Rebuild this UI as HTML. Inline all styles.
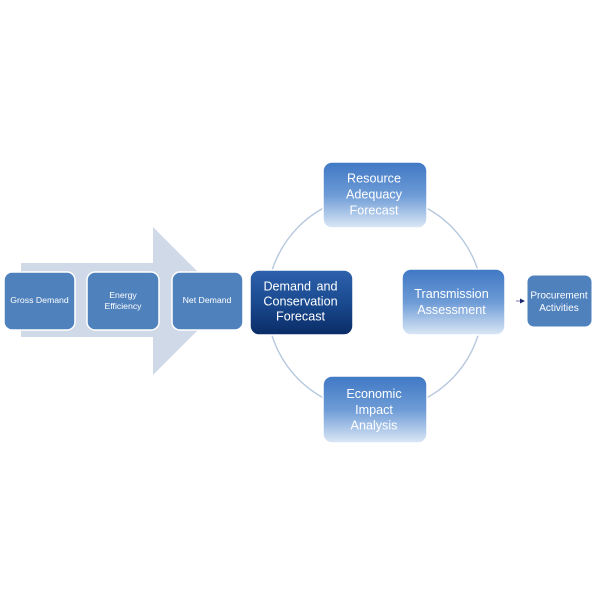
<!DOCTYPE html>
<html><head><meta charset="utf-8"><style>
html,body{margin:0;padding:0;background:#fff;}
svg{display:block;}
text{font-family:"Liberation Sans",sans-serif;fill:#fff;text-anchor:middle;}
</style></head><body>
<svg width="600" height="600" viewBox="0 0 600 600" xmlns="http://www.w3.org/2000/svg">
<defs>
<linearGradient id="lg" x1="0" y1="0" x2="0" y2="1">
<stop offset="0" stop-color="#3f78c4"/>
<stop offset="0.5" stop-color="#6d9bd6"/>
<stop offset="1" stop-color="#dce8f6"/>
</linearGradient>
<linearGradient id="dg" x1="0" y1="0" x2="0" y2="1">
<stop offset="0" stop-color="#2e62ac"/>
<stop offset="0.5" stop-color="#1a4a90"/>
<stop offset="1" stop-color="#0a2c66"/>
</linearGradient>
</defs>

<!-- big arrow -->
<polygon points="21,263 153,263 153,227 227,301 153,375 153,337 21,337" fill="#d0d9e8"/>

<!-- left boxes -->
<rect x="4" y="272" width="71" height="58" rx="8" fill="#4f81bd" stroke="#fff" stroke-width="1.5"/>
<rect x="87" y="272" width="72" height="58" rx="8" fill="#4f81bd" stroke="#fff" stroke-width="1.5"/>
<rect x="172" y="272" width="71" height="58" rx="8" fill="#4f81bd" stroke="#fff" stroke-width="1.5"/>
<text x="39.5" y="303" font-size="8.7">Gross Demand</text>
<text x="123" y="298" font-size="8.7">Energy</text>
<text x="123" y="309" font-size="8.7">Efficiency</text>
<text x="207" y="303" font-size="8.7">Net Demand</text>

<!-- circle -->
<circle cx="375" cy="303" r="108" fill="none" stroke="#b6c8de" stroke-width="1.4"/>

<!-- cycle boxes -->
<rect x="323" y="162" width="104" height="66" rx="9" fill="url(#lg)" stroke="#fff" stroke-width="1.5"/>
<rect x="250" y="270" width="103" height="65" rx="9" fill="url(#dg)" stroke="#fff" stroke-width="1.5"/>
<rect x="402" y="269" width="103" height="66" rx="9" fill="url(#lg)" stroke="#fff" stroke-width="1.5"/>
<rect x="323" y="376" width="104" height="67" rx="9" fill="url(#lg)" stroke="#fff" stroke-width="1.5"/>

<text x="374" y="182.5" font-size="12.6">Resource</text>
<text x="374" y="198.5" font-size="12.6">Adequacy</text>
<text x="374" y="214.5" font-size="12.6">Forecast</text>

<text x="300.5" y="290.5" font-size="12.6" word-spacing="2">Demand and</text>
<text x="300.5" y="305.5" font-size="12.6">Conservation</text>
<text x="300.5" y="320.5" font-size="12.6">Forecast</text>

<text x="451.5" y="298" font-size="12.6">Transmission</text>
<text x="451.5" y="314" font-size="12.6">Assessment</text>

<text x="374" y="397.8" font-size="12.6">Economic</text>
<text x="374" y="413.8" font-size="12.6">Impact</text>
<text x="374" y="429.5" font-size="12.6">Analysis</text>

<!-- connector to procurement -->
<line x1="516" y1="301" x2="521" y2="301" stroke="#7b7fb5" stroke-width="1"/>
<polygon points="520,298.5 525,301 520,303.5" fill="#1f2a6e"/>

<rect x="527" y="275" width="65" height="52" rx="7" fill="#4f81bd" stroke="#fff" stroke-width="1"/>
<text x="559" y="298.5" font-size="10">Procurement</text>
<text x="559" y="311" font-size="10">Activities</text>
</svg>
</body></html>
